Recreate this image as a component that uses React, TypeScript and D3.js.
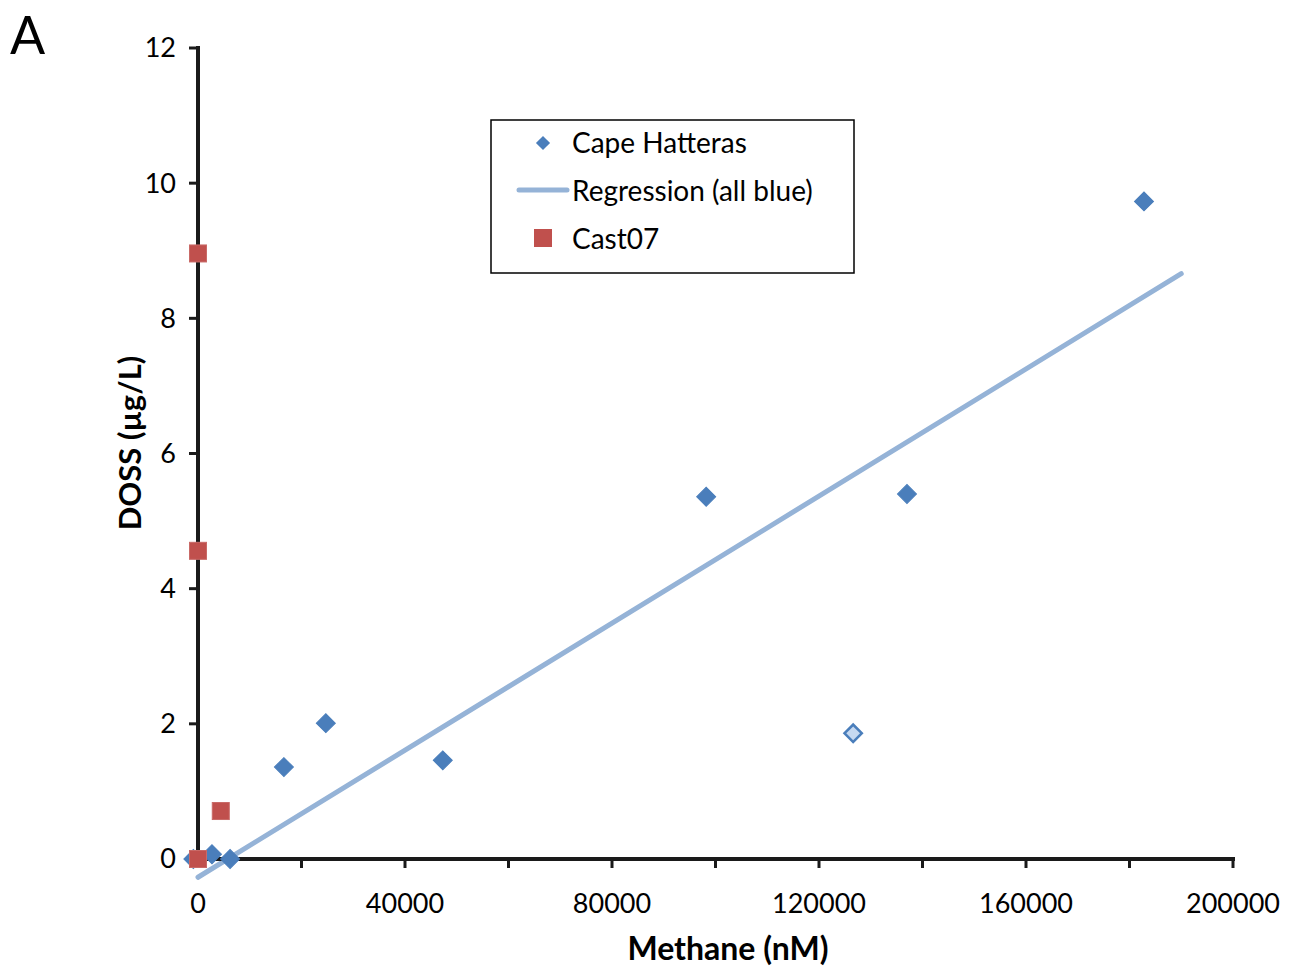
import React, { useEffect, useRef } from "react";
import * as d3 from "d3";

// Cape Hatteras (blue diamonds): methane nM, DOSS µg/L
const hatterasMethane = [-900, 2700, 6200, 16600, 24700, 47300, 98200, 137000, 182800];
const hatterasDoss = [0, 0.07, 0, 1.36, 2.01, 1.46, 5.36, 5.4, 9.73];
// the pale diamond
const paleMethane = [126600];
const paleDoss = [1.86];
// Cast07 (red squares)
const castMethane = [0, 0, 4400, 0];
const castDoss = [8.96, 4.56, 0.71, 0];
// Regression (all blue)
const regSlope = 0.000047;
const regIntercept = -0.27;
const regRange = [0, 190000];

const xTicks = [0, 40000, 80000, 120000, 160000, 200000];
const xMinorTicks = [20000, 60000, 100000, 140000, 180000];
const yTicks = [0, 2, 4, 6, 8, 10, 12];

const WIDTH = 1296;
const HEIGHT = 974;
const MARGIN = { top: 48, right: 63, bottom: 115, left: 198 };

const BLUE = "#4a7ebb";
const RED = "#c0504d";
const LIGHT = "#95b3d7";
const FONT = "Lato, 'Open Sans', sans-serif";

export default function App() {
  const ref = useRef<SVGSVGElement>(null);

  useEffect(() => {
    const svg = d3.select(ref.current);
    svg.selectAll("*").remove();

    const boundsW = WIDTH - MARGIN.left - MARGIN.right;
    const boundsH = HEIGHT - MARGIN.top - MARGIN.bottom;

    const x = d3.scaleLinear().domain([0, 200000]).range([0, boundsW]);
    const y = d3.scaleLinear().domain([0, 12]).range([boundsH, 0]);

    const g = svg.append("g").attr("transform", `translate(${MARGIN.left},${MARGIN.top})`);

    // Regression line
    const line = d3
      .line<number>()
      .x((d) => x(d))
      .y((d) => y(regSlope * d + regIntercept));
    g.append("path")
      .attr("d", line(regRange))
      .attr("fill", "none")
      .attr("stroke", LIGHT)
      .attr("stroke-width", 5)
      .attr("stroke-linecap", "round");

    // Axes
    const xAxis = g.append("g").attr("transform", `translate(0,${boundsH})`);
    xAxis.append("line").attr("x1", -2).attr("x2", boundsW + 2).attr("stroke", "#1a1a1a").attr("stroke-width", 4);
    [...xTicks, ...xMinorTicks].forEach((t) => {
      xAxis.append("line").attr("x1", x(t)).attr("x2", x(t)).attr("y1", 0).attr("y2", 9)
        .attr("stroke", "#1a1a1a").attr("stroke-width", 3);
    });
    xTicks.forEach((t) => {
      xAxis.append("text").attr("x", x(t)).attr("y", 54).attr("text-anchor", "middle")
        .attr("font-family", FONT).attr("font-size", 27).attr("fill", "#000").text(String(t));
    });

    const yAxis = g.append("g");
    yAxis.append("line").attr("y1", -2).attr("y2", boundsH + 2).attr("stroke", "#1a1a1a").attr("stroke-width", 4);
    yTicks.forEach((t) => {
      yAxis.append("line").attr("x1", -9).attr("x2", 0).attr("y1", y(t)).attr("y2", y(t))
        .attr("stroke", "#1a1a1a").attr("stroke-width", 3);
      yAxis.append("text").attr("x", -22).attr("y", y(t)).attr("dy", "0.35em").attr("text-anchor", "end")
        .attr("font-family", FONT).attr("font-size", 27).attr("fill", "#000").text(String(t));
    });

    // Axis titles
    svg.append("text").attr("x", 728).attr("y", 960).attr("text-anchor", "middle")
      .attr("font-family", FONT).attr("font-weight", "bold").attr("font-size", 32).text("Methane (nM)");
    svg.append("text").attr("transform", "translate(141,443) rotate(-90)").attr("text-anchor", "middle")
      .attr("font-family", FONT).attr("font-weight", "bold").attr("font-size", 31).text("DOSS (µg/L)");
    svg.append("text").attr("x", 10).attr("y", 54)
      .attr("font-family", FONT).attr("font-size", 52).text("A");

    const diamond = d3.symbol(d3.symbolSquare, 180)();

    // Cape Hatteras
    g.append("g").selectAll("path").data(d3.range(hatterasMethane.length)).join("path")
      .attr("d", diamond)
      .attr("transform", (i) => `translate(${x(hatterasMethane[i])},${y(hatterasDoss[i])}) rotate(45)`)
      .attr("fill", BLUE).attr("stroke", BLUE).attr("stroke-width", 1);

    g.append("g").selectAll("path").data(d3.range(paleMethane.length)).join("path")
      .attr("d", d3.symbol(d3.symbolSquare, 150)())
      .attr("transform", (i) => `translate(${x(paleMethane[i])},${y(paleDoss[i])}) rotate(45)`)
      .attr("fill", "#c6d9f1").attr("stroke", BLUE).attr("stroke-width", 2.5);

    // Cast07
    g.append("g").selectAll("rect").data(d3.range(castMethane.length)).join("rect")
      .attr("x", (i) => x(castMethane[i]) - 8.5).attr("y", (i) => y(castDoss[i]) - 8.5)
      .attr("width", 17).attr("height", 17)
      .attr("fill", RED).attr("stroke", "#c96a67").attr("stroke-width", 1);

    // Legend
    const lg = svg.append("g").attr("transform", "translate(491,120)");
    lg.append("rect").attr("width", 363).attr("height", 153).attr("fill", "#fff")
      .attr("stroke", "#000").attr("stroke-width", 1.5);
    lg.append("path").attr("d", d3.symbol(d3.symbolSquare, 100)())
      .attr("transform", "translate(52,23) rotate(45)").attr("fill", BLUE);
    lg.append("line").attr("x1", 28).attr("x2", 76).attr("y1", 70).attr("y2", 70)
      .attr("stroke", LIGHT).attr("stroke-width", 5).attr("stroke-linecap", "round");
    lg.append("rect").attr("x", 43).attr("y", 109).attr("width", 18).attr("height", 18).attr("fill", RED);
    const labels = ["Cape Hatteras", "Regression (all blue)", "Cast07"];
    labels.forEach((l, i) => {
      lg.append("text").attr("x", 81).attr("y", 23 + i * 48).attr("dy", "0.35em")
        .attr("font-family", FONT).attr("font-size", 28).attr("fill", "#000").text(l);
    });
  }, []);

  return <svg ref={ref} width={WIDTH} height={HEIGHT} style={{ display: "block", margin: -8 }} />;
}
